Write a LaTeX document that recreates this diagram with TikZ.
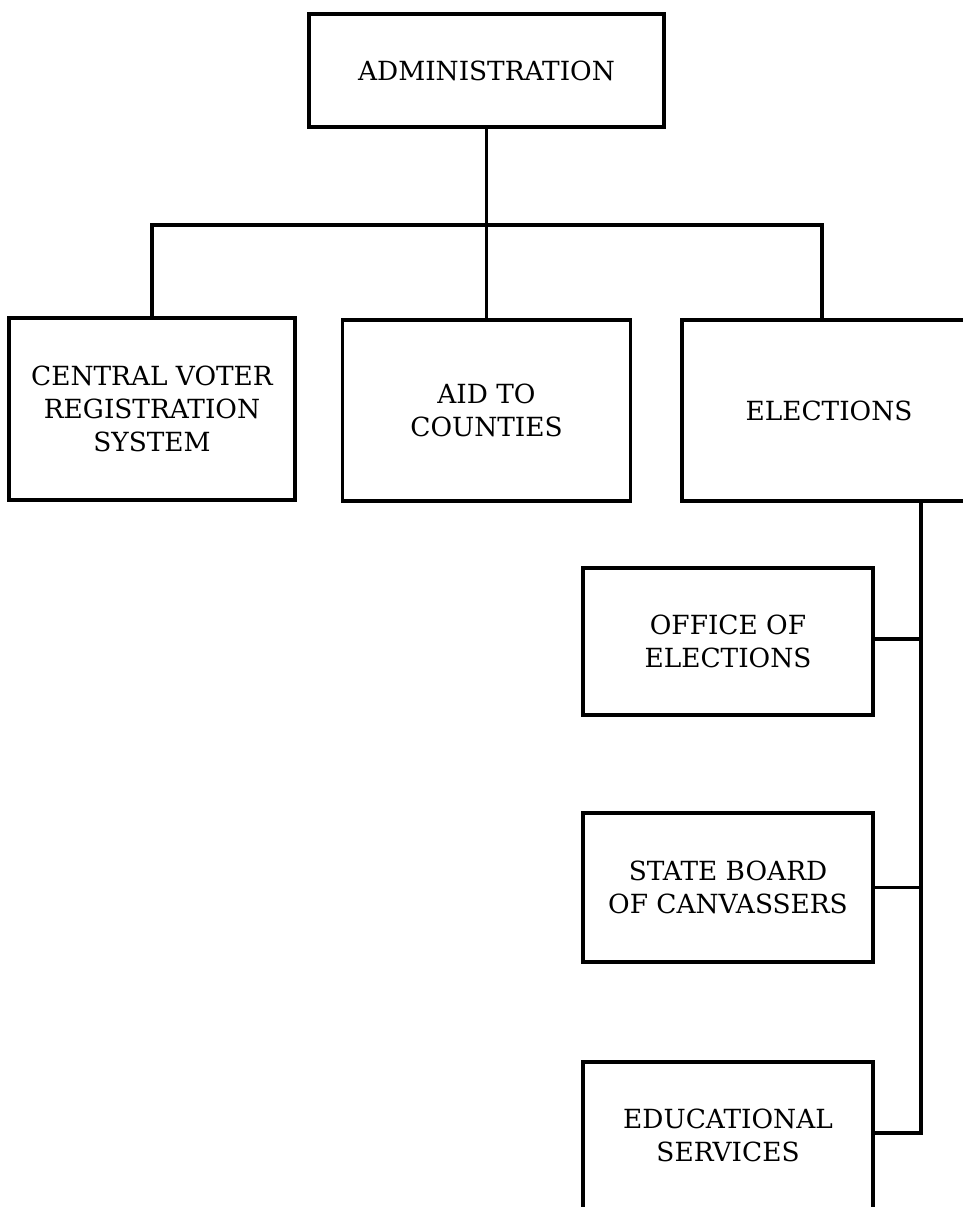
\documentclass[tikz,border=0pt]{standalone}
\usepackage{tikz}
\usepackage{fontspec}
\setmainfont{DejaVu Serif}
\usetikzlibrary{calc}

\begin{document}
\begin{tikzpicture}[
    x=0.02cm, y=-0.02cm,
    unit/.style={rectangle, draw=black, fill=white, line width=1.8pt,
                 align=center, inner sep=0pt,
                 font=\fontsize{15}{18.8}\selectfont},
    link/.style={draw=black, line width=1.8pt},
]
\clip (0,0) rectangle (963,1207);
\fill[white] (0,0) rectangle (963,1207);

% Top level
\node[unit, minimum width=7.1cm, minimum height=2.26cm]
    (admin) at (486.5, 70.5) {ADMINISTRATION};

% Second level
\node[unit, minimum width=5.72cm, minimum height=3.64cm] (cvrs) at (152, 409)
    {CENTRAL VOTER\\REGISTRATION\\SYSTEM};
\node[unit, minimum width=5.76cm, minimum height=3.62cm] (aid)  at (486.5, 410.5)
    {AID TO\\COUNTIES};
\node[unit, minimum width=5.88cm, minimum height=3.62cm] (elections) at (829, 410.5)
    {ELECTIONS};

\coordinate (hub)      at (486.5, 225);
\coordinate (elecdrop) at (822, 320);
\draw[link] (admin) -- (aid);
\draw[link] (cvrs.north) |- (hub) -| (elecdrop);

% Under elections
\node[unit, minimum width=5.8cm, minimum height=2.94cm] (office) at (728, 641.5)
    {OFFICE OF\\ELECTIONS};
\node[unit, minimum width=5.8cm, minimum height=2.98cm] (board)  at (728, 887.5)
    {STATE BOARD\\OF CANVASSERS};
\node[unit, minimum width=5.8cm, minimum height=2.94cm] (educ)   at (728, 1135.5)
    {EDUCATIONAL\\SERVICES};

\coordinate (spine)    at (921, 501);
\coordinate (officein) at (873, 639);
\coordinate (educin)   at (873, 1133);
\draw[link] (spine) |- (educin);
\draw[link] (officein) -- (officein -| spine);
\draw[link] (board.east) -- (board.east -| spine);

\end{tikzpicture}
\end{document}
